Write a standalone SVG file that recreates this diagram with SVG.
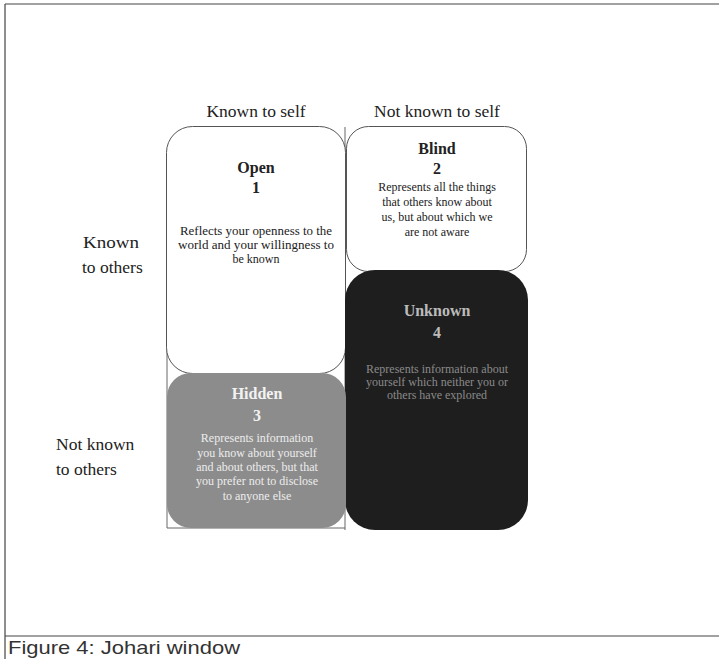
<svg xmlns="http://www.w3.org/2000/svg" width="719" height="659" viewBox="0 0 719 659">
<style>
.t{font-family:"Liberation Serif",serif;fill:#222}
.h{font-size:17.5px}
.b{font-weight:bold;font-size:16px}
.s{font-size:12px}
.c{text-anchor:middle}
.cap{font-family:"Liberation Sans",Arial,sans-serif;font-size:19px;fill:#333}
</style>
<rect width="719" height="659" fill="#fff"/>
<g id="frame" fill="none" stroke="#444" stroke-width="1.2">
<path d="M5 4 H719 M5 4 V659 M5 636 H719"/>
</g>
<g id="connectors" fill="none" stroke="#666" stroke-width="1">
<path d="M345 127 V530 M167 300 V528 H345"/>
</g>
<g id="labels">
<text class="t h c" x="256" y="117">Known to self</text>
<text class="t h c" x="437" y="117">Not known to self</text>
<text class="t h" x="83" y="248" textLength="56" lengthAdjust="spacingAndGlyphs">Known</text>
<text class="t h" x="82" y="273">to others</text>
<text class="t h" x="56" y="450">Not known</text>
<text class="t h" x="56" y="475">to others</text>
</g>
<g id="open">
<rect x="166.5" y="126.5" width="179" height="247" rx="26" fill="#fff" stroke="#555"/>
<text class="t b c" x="256" y="173">Open</text>
<text class="t b c" x="256" y="193">1</text>
<text class="t s c" x="256" y="235" textLength="152" lengthAdjust="spacingAndGlyphs">Reflects your openness to the</text>
<text class="t s c" x="256" y="249" textLength="156" lengthAdjust="spacingAndGlyphs">world and your willingness to</text>
<text class="t s c" x="256" y="263">be known</text>
</g>
<g id="blind">
<rect x="346.5" y="126.5" width="180" height="145" rx="22" fill="#fff" stroke="#555"/>
<text class="t b c" x="437" y="154">Blind</text>
<text class="t b c" x="437" y="174">2</text>
<text class="t s c" x="437" y="191">Represents all the things</text>
<text class="t s c" x="437" y="206">that others know about</text>
<text class="t s c" x="437" y="221">us,  but about which we</text>
<text class="t s c" x="437" y="236">are not aware</text>
</g>
<g id="unknown">
<rect x="345" y="270" width="183" height="260" rx="30" fill="#1e1e1e"/>
<text class="t b c" x="437" y="316" style="fill:#bbb">Unknown</text>
<text class="t b c" x="437" y="338" style="fill:#bbb">4</text>
<text class="t s c" x="437" y="373" style="fill:#8a8a8a">Represents information about</text>
<text class="t s c" x="437" y="386" style="fill:#8a8a8a">yourself which neither you or</text>
<text class="t s c" x="437" y="399" style="fill:#8a8a8a">others have explored</text>
</g>
<g id="hidden">
<rect x="167" y="373" width="179" height="155" rx="24" fill="#8c8c8c"/>
<text class="t b c" x="257" y="399" style="fill:#f2f2f2">Hidden</text>
<text class="t b c" x="257" y="421" style="fill:#f2f2f2">3</text>
<text class="t s c" x="257" y="442" style="fill:#ececec">Represents information</text>
<text class="t s c" x="257" y="457" style="fill:#ececec">you know about yourself</text>
<text class="t s c" x="257" y="471" style="fill:#ececec">and about others, but that</text>
<text class="t s c" x="257" y="485" style="fill:#ececec">you prefer not to disclose</text>
<text class="t s c" x="257" y="500" style="fill:#ececec">to anyone else</text>
</g>
<text class="cap" x="8" y="654" textLength="232" lengthAdjust="spacingAndGlyphs">Figure 4: Johari window</text>
</svg>
